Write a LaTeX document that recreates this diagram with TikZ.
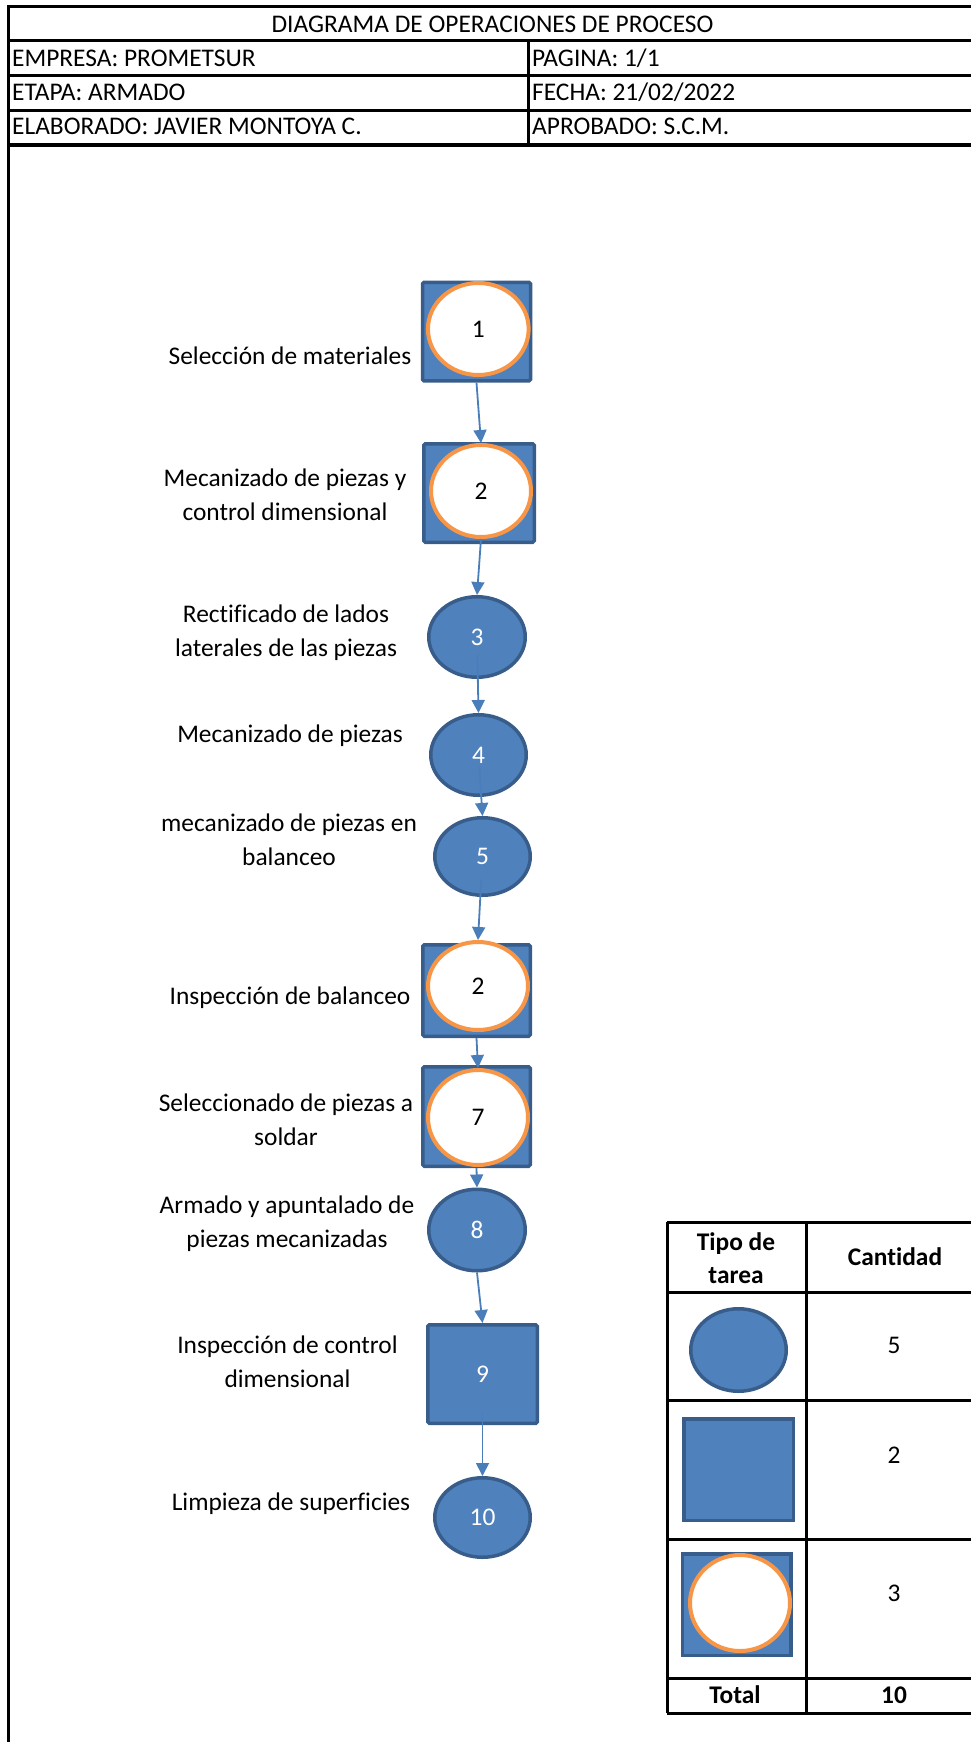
\documentclass[tikz,border=0pt]{standalone}
\usepackage{fontspec}
\setmainfont{Carlito}[Ligatures=NoCommon]
\usetikzlibrary{shapes.geometric,arrows.meta}
\definecolor{opfill}{HTML}{4F81BD}
\definecolor{opedge}{HTML}{385D8A}
\definecolor{ringor}{HTML}{F79646}
\definecolor{flowblue}{HTML}{4A7EBB}

\begin{document}
\begin{tikzpicture}[x=1pt,y=-1pt,
  every node/.style={font=\fontsize{25.4}{34}\selectfont},
  opsq/.style={rectangle, fill=opfill, draw=opedge, line width=3.5pt, rounded corners=1.5pt, inner sep=0pt, text=white},
  opel/.style={ellipse, fill=opfill, draw=opedge, line width=3.5pt, inner sep=0pt, text=white},
  ring/.style={ellipse, fill=white, draw=ringor, line width=4pt, inner sep=0pt, text=black},
  lbl/.style={align=center, inner sep=0pt},
  hdr/.style={anchor=base west, inner sep=0pt},
  bold/.style={align=center, inner sep=0pt, font=\fontsize{25.4}{33}\selectfont\bfseries},
  flow/.style={draw=flowblue, line width=1.8pt, -{Triangle[width=13pt,length=13pt]}},
  grid/.style={line width=3pt}]

\useasboundingbox (0,0) rectangle (970,1742);

% page frame and heading block
\draw[grid] (8,1742) -- (8,7) -- (975,7);
\foreach \yy in {41,76,111,145} \draw[grid] (8,\yy) -- (975,\yy);
\draw[grid] (528,41) -- (528,145);

\node[inner sep=0pt, anchor=base] (title) at (492.5,33) {DIAGRAMA DE OPERACIONES DE PROCESO};
\node[hdr] (emp) at (12,67) {EMPRESA: PROMETSUR};
\node[hdr] (pag) at (532,67) {PAGINA: 1/1};
\node[hdr] (eta) at (12,101) {ETAPA: ARMADO};
\node[hdr] (fec) at (532,101) {FECHA: 21/02/2022};
\node[hdr] (ela) at (12,135) {ELABORADO: JAVIER MONTOYA C.};
\node[hdr] (apr) at (532,135) {APROBADO: S.C.M.};

% process steps
\node[opsq, minimum width=108pt, minimum height=98.5pt] (s1) at (476.5,331.7) {};
\node[ring, minimum width=100.7pt, minimum height=92pt] (c1) at (478.3,329) {1};

\node[opsq, minimum width=110.5pt, minimum height=98.5pt] (s2) at (479,493) {};
\node[ring, minimum width=100pt, minimum height=92pt] (c2) at (481,491) {2};

\node[opel, minimum width=96.5pt, minimum height=80.5pt] (e3) at (477,637) {3};
\node[opel, minimum width=95.5pt, minimum height=80.5pt] (e4) at (478.5,755) {4};
\node[opel, minimum width=95.5pt, minimum height=77.5pt] (e5) at (482.5,856.5) {5};

\node[opsq, minimum width=107.5pt, minimum height=91.5pt] (s6) at (476.5,990.5) {};
\node[ring, minimum width=100pt, minimum height=88pt] (c6) at (478,986) {2};

\node[opsq, minimum width=107.5pt, minimum height=99.5pt] (s7) at (476.5,1116.5) {};
\node[ring, minimum width=100pt, minimum height=95pt] (c7) at (478,1117.5) {7};

\node[opel, minimum width=96.5pt, minimum height=81.5pt] (e8) at (477,1230) {8};
\node[opsq, minimum width=109.5pt, minimum height=98.5pt] (s9) at (482.5,1374) {9};
\node[opel, minimum width=95.5pt, minimum height=79.5pt] (e10) at (482.5,1517.5) {10};

% step descriptions
\node[lbl] (l1) at (290,356) {Selección de materiales};
\node[lbl] (l2) at (285,495) {Mecanizado de piezas y\\control dimensional};
\node[lbl] (l3) at (286,633) {Rectificado de lados\\laterales de las piezas};
\node[lbl] (l4) at (290,736) {Mecanizado de piezas};
\node[lbl] (l5) at (289,840) {mecanizado de piezas en\\balanceo};
\node[lbl] (l6) at (290,998) {Inspección de balanceo};
\node[lbl] (l7) at (286,1120) {Seleccionado de piezas a\\soldar};
\node[lbl] (l8) at (287,1224) {Armado y apuntalado de\\piezas mecanizadas};
\node[lbl] (l9) at (287.5,1361.5) {Inspección de control\\dimensional};
\node[lbl] (l10) at (291,1504) {Limpieza de superficies};

% flow between steps
\draw[flow] (s1.south) -- (c2.north);
\draw[flow] (c2.south) -- (e3.north);
\draw[flow, shorten <=18pt] (e3.center) -- (e4.north);
\draw[flow, shorten <=12pt] (e4.center) -- (e5.north);
\draw[flow, shorten <=23pt] (e5.center) -- (c6.north);
\draw[flow] (s6.south) -- (c7.north);
\draw[flow] (s7.south) -- (e8.north);
\draw[flow] (e8.south) -- (s9.north);
\draw[flow, shorten <=39pt] (s9.center) -- (e10.north);

% summary table
\foreach \yy in {1222,1292,1400,1539,1678,1713} \draw[grid] (667,\yy) -- (975,\yy);
\draw[grid] (667,1222) -- (667,1713);
\draw[grid] (806,1222) -- (806,1713);

\node[bold] (th1) at (736,1258) {Tipo de\\tarea};
\node[bold] (th2) at (895,1257) {Cantidad};

\node[opel, minimum width=95.5pt, minimum height=82.5pt] (k1) at (738.5,1350) {};
\node[opsq, rounded corners=0pt, minimum width=109.5pt, minimum height=101.5pt] (k2) at (738.5,1469.5) {};
\node[opsq, rounded corners=0pt, minimum width=108.5pt, minimum height=101.5pt] (k3) at (736.7,1604.5) {};
\node[ring, minimum width=100pt, minimum height=96pt] (k3c) at (740,1603) {};

\node[inner sep=0pt] (n1) at (894,1345) {5};
\node[inner sep=0pt] (n2) at (894,1455) {2};
\node[inner sep=0pt] (n3) at (894,1593) {3};
\node[bold] (tot) at (735,1695) {Total};
\node[bold] (ntot) at (894,1695) {10};

\end{tikzpicture}
\end{document}
